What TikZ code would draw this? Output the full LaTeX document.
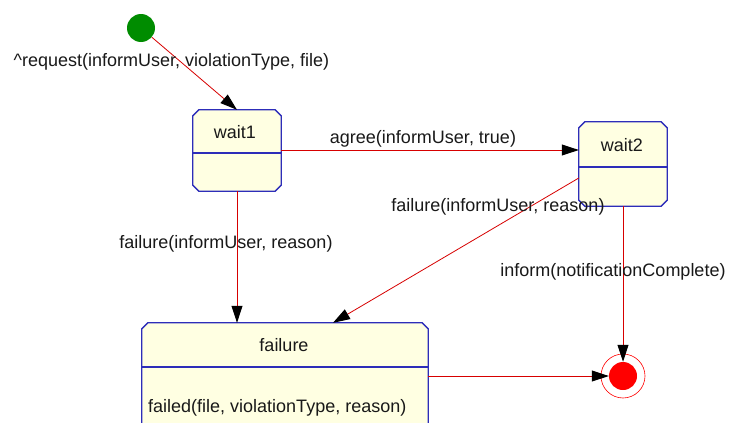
\documentclass[tikz,border=0pt]{standalone}
\usepackage{fontspec}
\setmainfont{Liberation Sans}
\usetikzlibrary{arrows.meta,calc}
\definecolor{stfill}{RGB}{255,255,226}
\definecolor{stline}{RGB}{45,45,185}
\definecolor{trline}{RGB}{215,0,0}
\definecolor{initgreen}{RGB}{0,140,0}
\definecolor{txt}{RGB}{25,25,25}
\tikzset{
  stateframe/.style={rectangle, inner sep=0pt, draw=none},
  outline/.style={draw=stline, fill=stfill, line width=1.3pt},
  divider/.style={draw=stline, line width=1.3pt},
  trans/.style={draw=trline, line width=0.8pt,
    -{Triangle[length=17pt,width=11pt,line width=1pt,color=black]}},
  lbl/.style={text=txt, inner sep=0pt},
}
% outline of a state with cut corners: #1 node name, #2 size of the cut
\newcommand{\chambox}[2]{%
  \path[outline]
    ($(#1.north west)+(#2,0)$) -- ($(#1.north east)+(-#2,0)$) --
    ($(#1.north east)+(0,#2)$) -- ($(#1.south east)+(0,-#2)$) --
    ($(#1.south east)+(-#2,0)$) -- ($(#1.south west)+(#2,0)$) --
    ($(#1.south west)+(0,-#2)$) -- ($(#1.north west)+(0,#2)$) -- cycle;}
\begin{document}
\begin{tikzpicture}[x=1pt,y=-1pt,font=\fontsize{18}{21}\selectfont]
\clip (0,0) rectangle (729,423);
\fill[white] (0,0) rectangle (729,423);

% states
\node[stateframe, minimum width=88pt, minimum height=81pt] (wait1) at (237,150.5) {};
\node[stateframe, minimum width=88pt, minimum height=84pt] (wait2) at (623,164) {};
\node[stateframe, minimum width=286pt, minimum height=124pt] (failure) at (285,385) {};
\chambox{wait1}{6}
\chambox{wait2}{6}
\chambox{failure}{6}
\draw[divider] (wait1.west |- 0,153) -- (wait1.east |- 0,153);
\draw[divider] (wait2.west |- 0,167) -- (wait2.east |- 0,167);
\draw[divider] (failure.west |- 0,367) -- (failure.east |- 0,367);

\node[lbl] (wait1name) at (235,132) {wait1};
\node[lbl] (wait2name) at (622,145) {wait2};
\node[lbl] (failurename) at (284,345) {failure};
\node[lbl, anchor=west] (failureact) at (148,408) {failed(file, violationType, reason)};

% pseudo states
\node[circle, fill=initgreen, minimum size=28pt, inner sep=0pt] (init) at (141,28) {};
\node[circle, fill=red, minimum size=28pt, inner sep=0pt] (final) at (623,376) {};
\node[circle, draw=red, line width=0.6pt, minimum size=44pt, inner sep=0pt] (finalring) at (final) {};

% transitions
\draw[trans] (init) -- (wait1.north);
\draw[trans] (wait1.east |- 0,150) -- (wait2.west |- 0,150);
\draw[trans] (wait1.south) -- (wait1.south |- failure.north);
\draw[trans] ($(wait2.west)+(0,14)$) -- ($(failure.north)+(48,0)$);
\draw[trans] (wait2.south) -- (final);
\draw[trans] (final -| failure.east) -- (final);

% transition labels
\node[lbl] (l1) at (171.5,62) {\textasciicircum request(informUser, violationType, file)};
\node[lbl] (l2) at (423,139) {agree(informUser, true)};
\node[lbl] (l3) at (226,244) {failure(informUser, reason)};
\node[lbl] (l4) at (498,207) {failure(informUser, reason)};
\node[lbl] (l5) at (613,272) {inform(notificationComplete)};
\end{tikzpicture}
\end{document}
